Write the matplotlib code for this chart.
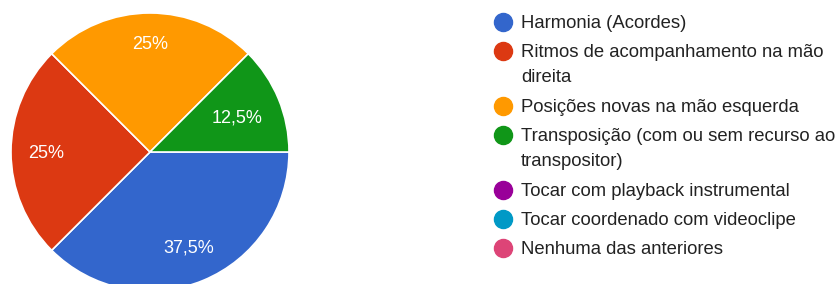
import matplotlib
matplotlib.use("Agg")
import matplotlib.pyplot as plt
import numpy as np
from matplotlib.lines import Line2D

categories = [
    "Harmonia (Acordes)",
    "Ritmos de acompanhamento na mão\ndireita",
    "Posições novas na mão esquerda",
    "Transposição (com ou sem recurso ao\ntranspositor)",
    "Tocar com playback instrumental",
    "Tocar coordenado com videoclipe",
    "Nenhuma das anteriores",
]
counts = [3, 2, 2, 1, 0, 0, 0]
colors = ["#3366CC", "#DC3912", "#FF9900", "#109618", "#990099", "#0099C6", "#DD4477"]

plt.rcParams['font.family'] = ['Liberation Sans', 'DejaVu Sans']

W, H = 839, 284
fig = plt.figure(figsize=(W / 100, H / 100), dpi=100)

# pie axes: center (150,152), radius 139 px
cx, cy, r = 150, 152, 139
ax = fig.add_axes([(cx - r) / W, 1 - (cy + r) / H, 2 * r / W, 2 * r / H])
ax.axis('off')

vals = [v for v in counts if v > 0]
cols = [c for v, c in zip(counts, colors) if v > 0]
total = sum(vals)
wedges, _ = ax.pie(vals, colors=cols, startangle=0, counterclock=False, radius=1.0,
                   wedgeprops=dict(edgecolor='white', linewidth=1.2), center=(0, 0))
ax.set_xlim(-1, 1)
ax.set_ylim(-1, 1)
ax.set_aspect('equal')

label_r = [0.73, 0.745, 0.785, 0.68]
for w, v, lr in zip(wedges, vals, label_r):
    ang = np.deg2rad((w.theta1 + w.theta2) / 2)
    pct = 100 * v / total
    s = (f"{pct:.1f}".rstrip('0').rstrip('.') + "%").replace('.', ',')
    ax.text(lr * np.cos(ang), lr * np.sin(ang), s, color='white', fontsize=13,
            ha='center', va='center_baseline')

# legend
rows_y = [22, 51, 106, 135, 190, 219, 248]
for y, lab, c in zip(rows_y, categories, colors):
    fig.add_artist(Line2D([503 / W], [1 - y / H], marker='o', markersize=13,
                          markerfacecolor=c, markeredgecolor=c, linestyle='none',
                          transform=fig.transFigure))
    for i, line in enumerate(lab.split("\n")):
        fig.text(521 / W, 1 - (y + 6 + 25 * i) / H, line, fontsize=13.3,
                 color='#222222', ha='left', va='baseline')

fig.savefig("out.png", dpi=100)
